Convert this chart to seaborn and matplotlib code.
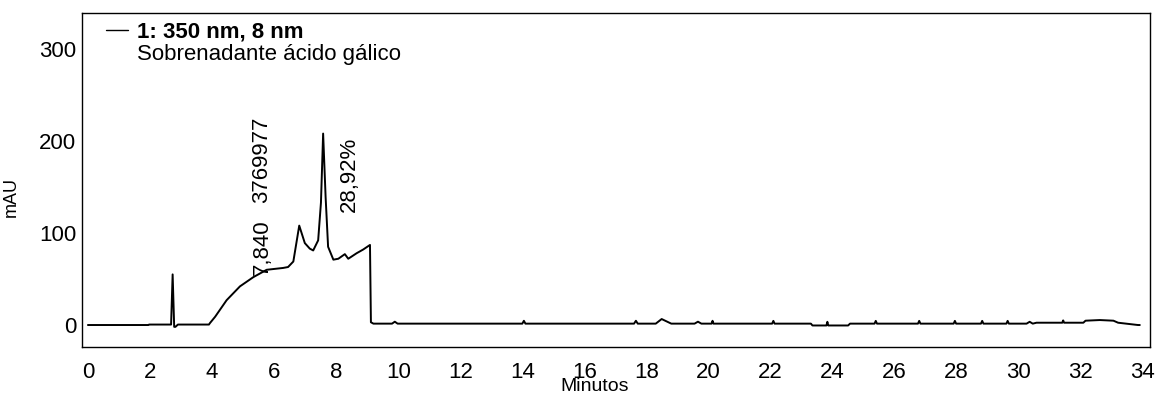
import matplotlib
matplotlib.use("Agg")
import matplotlib.pyplot as plt
import seaborn as sns
import pandas as pd
from matplotlib.lines import Line2D

# Cromatograma 350 nm - sobrenadante acido galico
tempo = [0.0, 1.95, 1.97, 2.68, 2.73, 2.78, 2.82, 2.90, 3.90, 3.93, 4.10, 4.47,
         4.90, 5.33, 5.76, 6.29, 6.45, 6.62, 6.81, 6.99, 7.15, 7.26, 7.42, 7.51,
         7.58, 7.66, 7.74, 7.91, 8.07, 8.28, 8.39, 8.66, 8.87, 9.09, 9.12, 9.20,
         9.80, 9.89, 9.98, 14.00, 14.05, 14.10, 17.60, 17.66, 17.72, 18.30, 18.49,
         18.80, 19.55, 19.66, 19.77, 20.10, 20.13, 20.16, 22.05, 22.09, 22.13,
         23.30, 23.35, 23.80, 23.83, 23.86, 24.50, 24.56, 25.35, 25.39, 25.43,
         26.75, 26.79, 26.83, 27.90, 27.94, 27.98, 28.78, 28.82, 28.86, 29.60,
         29.64, 29.68, 30.25, 30.35, 30.45, 30.57, 31.40, 31.43, 31.46, 32.08,
         32.15, 32.61, 33.05, 33.20, 33.84, 33.90]
mau = [0.0, 0.0, 0.5, 0.5, 55.0, -2.0, -2.0, 0.5, 0.5, 2.0, 9.0, 27.0,
       42.0, 52.0, 60.0, 62.0, 63.0, 69.0, 108.0, 89.0, 83.0, 81.0, 92.0, 133.0,
       208.0, 139.0, 85.0, 71.0, 72.0, 77.0, 72.0, 78.0, 82.0, 87.0, 3.0, 1.5,
       1.5, 3.6, 1.5, 1.5, 4.6, 1.5, 1.5, 4.6, 1.5, 1.5, 6.5,
       1.5, 1.5, 3.6, 1.5, 1.5, 4.6, 1.5, 1.5, 4.5, 1.5,
       1.5, -0.5, -0.5, 3.5, -0.5, -0.5, 1.5, 1.5, 4.5, 1.5,
       1.5, 4.5, 1.5, 1.5, 4.5, 1.5, 1.5, 4.5, 1.5, 1.5,
       4.5, 1.5, 1.5, 3.5, 1.5, 2.5, 2.5, 5.0, 2.5, 2.5,
       4.7, 5.4, 4.7, 2.5, 0.0, 0.0]

x_ticks = list(range(0, 35, 2))
y_ticks = [0, 100, 200, 300]
legenda = "1: 350 nm, 8 nm"
amostra = "Sobrenadante ácido gálico"

dados = pd.DataFrame({"Minutos": tempo, "mAU": mau})

sns.set_style("white")
plt.rcParams["font.family"] = ["Liberation Sans", "DejaVu Sans"]
plt.rcParams["text.color"] = "black"
plt.rcParams["axes.labelcolor"] = "black"

fig = plt.figure(figsize=(11.57, 3.96), dpi=100)
ax = fig.add_axes([0.0709, 0.1237, 0.9231, 0.8435])

sns.lineplot(data=dados, x="Minutos", y="mAU", color="black", linewidth=1.4,
             estimator=None, sort=False, ax=ax)

ax.set_xlim(-0.19, 34.23)
ax.set_ylim(-23.9, 339)
ax.set_xticks(x_ticks)
ax.set_yticks(y_ticks)
ax.tick_params(axis="both", length=0, labelsize=16, colors="black")
ax.tick_params(axis="x", pad=11)
ax.tick_params(axis="y", pad=4)

for sp in ax.spines.values():
    sp.set_visible(True)
    sp.set_color("black")
    sp.set_linewidth(1.0)

ax.set_xlabel("Minutos", fontsize=14)
ax.xaxis.set_label_coords(0.48, -0.094)
ax.set_ylabel("mAU", fontsize=13)
ax.yaxis.set_label_coords(-0.058, 0.45)

# anotacoes do pico
ax.text(5.61, 54, "7,840", rotation=90, fontsize=16, ha="center", va="bottom")
ax.text(5.61, 133, "3769977", rotation=90, fontsize=16, ha="center", va="bottom")
ax.text(8.44, 123, "28,92%", rotation=90, fontsize=16, ha="center", va="bottom")

# legenda
handle = Line2D([], [], color="black", linewidth=1.0)
leg = ax.legend([handle], [legenda], loc="upper left", frameon=False,
                bbox_to_anchor=(0.0225, 0.974), borderaxespad=0, borderpad=0,
                handlelength=1.0, handletextpad=0.4,
                prop={"size": 16, "weight": "bold"})
ax.text(0.0515, 0.859, amostra, transform=ax.transAxes, fontsize=16,
        ha="left", va="baseline")

plt.savefig("out.png", dpi=100)
